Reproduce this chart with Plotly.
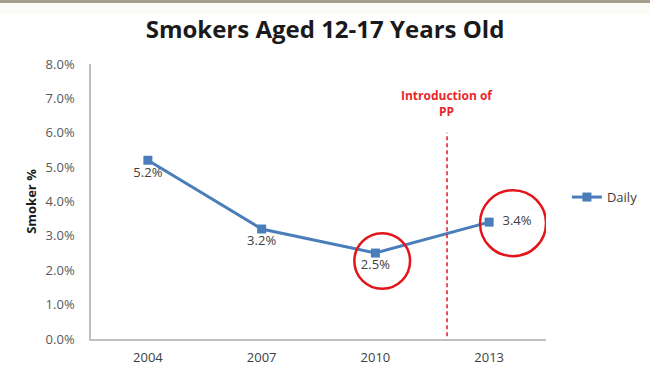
import plotly.graph_objects as go

years = ["2004", "2007", "2010", "2013"]
daily = [0.052, 0.032, 0.025, 0.034]
label_pos = ["bottom center", "bottom center", "bottom center", "middle right"]
yticks = [0.0, 0.01, 0.02, 0.03, 0.04, 0.05, 0.06, 0.07, 0.08]
pp_position = 2.63  # between 2010 and 2013 (category index)
circles = [  # (x index, y value, x radius, y radius)
    (2.06, 0.0227, 0.245, 0.0081),
    (3.21, 0.0337, 0.29, 0.0096),
]

xs = list(range(len(years)))
FONT = "Open Sans"
BLUE = "#4a7ebb"

labels = [("\u00a0\u00a0" if p == "middle right" else "") + f"{v*100:.1f}%"
          for v, p in zip(daily, label_pos)]

fig = go.Figure()
fig.add_trace(go.Scatter(
    x=xs, y=daily, mode="lines+markers+text", name="Daily",
    line=dict(color=BLUE, width=3),
    marker=dict(symbol="square", size=9, color=BLUE),
    text=labels,
    textposition=label_pos,
    textfont=dict(family=FONT, size=13, color="#404040"),
    cliponaxis=False,
))

fig.add_shape(type="line", xref="x", yref="y", x0=pp_position, x1=pp_position,
              y0=-0.0012, y1=0.06, line=dict(color="#e8262b", width=1.6, dash="4px,3px"))
for cx, cy, rx, ry in circles:
    fig.add_shape(type="circle", xref="x", yref="y",
                  x0=cx - rx, x1=cx + rx, y0=cy - ry, y1=cy + ry,
                  line=dict(color="#e3151b", width=2.5))
fig.add_annotation(xref="x", yref="y", x=pp_position, y=0.0685,
                   text="<b>Introduction of<br>PP</b>", showarrow=False,
                   font=dict(family=FONT, size=12, color="#e8262b"), align="center")

# top border strip
fig.add_shape(type="rect", xref="paper", yref="paper", x0=-0.3, x1=1.3,
              y0=1.1800, y1=1.2218, line_width=0, fillcolor="#fcfcf6", layer="below")
fig.add_shape(type="rect", xref="paper", yref="paper", x0=-0.3, x1=1.3,
              y0=1.2218, y1=1.24, line_width=0, fillcolor="#a59f8e")

fig.update_layout(
    width=650, height=384,
    margin=dict(l=91, r=104, t=64, b=45, autoexpand=False),
    paper_bgcolor="white", plot_bgcolor="white",
    title=dict(text="<b>Smokers Aged 12-17 Years Old</b>", x=0.5, xanchor="center",
               y=0.922, yanchor="middle",
               font=dict(family=FONT, size=24, color="#1a1a1a")),
    showlegend=True,
    legend=dict(x=1.046, y=0.516, xanchor="left", yanchor="middle",
                font=dict(family=FONT, size=13, color="#404040"),
                bgcolor="rgba(0,0,0,0)"),
    xaxis=dict(range=[-0.5, 3.5], tickvals=xs, ticktext=years,
               showgrid=False, zeroline=False, showline=True,
               linecolor="#c0c0c0", linewidth=1.5, automargin=False,
               ticklabelstandoff=6,
               tickfont=dict(family=FONT, size=13, color="#404040")),
    yaxis=dict(range=[0, 0.08], tickvals=yticks, tickformat=".1%",
               showgrid=False, zeroline=False, showline=True,
               linecolor="#c0c0c0", linewidth=1.5, automargin=False,
               ticklabelstandoff=12,
               tickfont=dict(family=FONT, size=13, color="#595959"),
               title=dict(text="<b>Smoker %</b>", standoff=6,
                          font=dict(family=FONT, size=13, color="#1a1a1a"))),
)

fig.write_html("out.html", config={"displayModeBar": False},
               post_script="document.body.style.margin='0';")
